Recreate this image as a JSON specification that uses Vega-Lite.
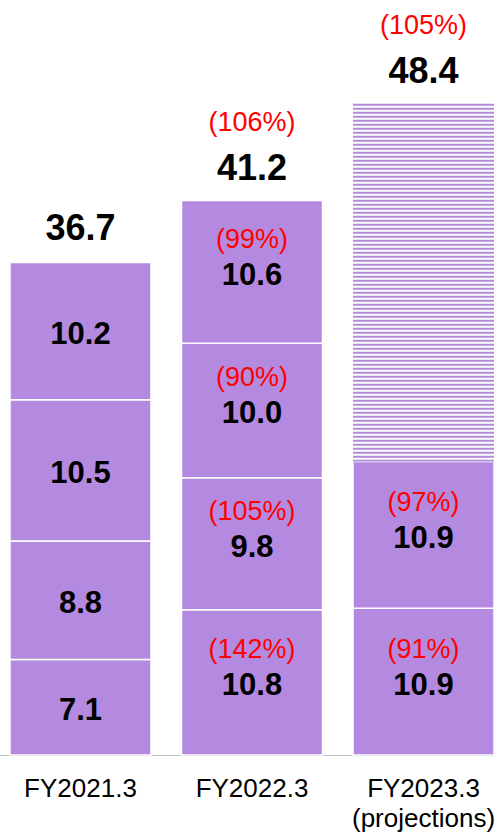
{
  "$schema": "https://vega.github.io/schema/vega-lite/v6.json",
  "width": 495,
  "height": 755,
  "autosize": "none",
  "padding": {"left": 0, "top": 0, "right": 0, "bottom": 77},
  "background": "white",
  "config": {"view": {"stroke": null}, "font": "Liberation Sans"},
  "datasets": {
    "segs": [
      {"fy": "FY2021.3", "seg": 1, "value": 7.1, "pct": null, "kind": "solid"},
      {"fy": "FY2021.3", "seg": 2, "value": 8.8, "pct": null, "kind": "solid"},
      {"fy": "FY2021.3", "seg": 3, "value": 10.5, "pct": null, "kind": "solid"},
      {"fy": "FY2021.3", "seg": 4, "value": 10.2, "pct": null, "kind": "solid"},
      {"fy": "FY2022.3", "seg": 1, "value": 10.8, "pct": "(142%)", "kind": "solid"},
      {"fy": "FY2022.3", "seg": 2, "value": 9.8, "pct": "(105%)", "kind": "solid"},
      {"fy": "FY2022.3", "seg": 3, "value": 10.0, "pct": "(90%)", "kind": "solid"},
      {"fy": "FY2022.3", "seg": 4, "value": 10.6, "pct": "(99%)", "kind": "solid"},
      {"fy": "FY2023.3 (projections)", "seg": 1, "value": 10.9, "pct": "(91%)", "kind": "solid"},
      {"fy": "FY2023.3 (projections)", "seg": 2, "value": 10.9, "pct": "(97%)", "kind": "solid"},
      {"fy": "FY2023.3 (projections)", "seg": 3, "value": 26.6, "pct": null, "kind": "plan"}
    ],
    "totals": [
      {"fy": "FY2021.3", "total": 36.7, "pct": null},
      {"fy": "FY2022.3", "total": 41.2, "pct": "(106%)"},
      {"fy": "FY2023.3 (projections)", "total": 48.4, "pct": "(105%)"}
    ]
  },
  "data": {"name": "segs"},
  "encoding": {
    "x": {
      "field": "fy",
      "type": "nominal",
      "sort": null,
      "scale": {
        "domain": ["FY2021.3", "FY2022.3", "FY2023.3 (projections)"],
        "paddingInner": 0.178,
        "paddingOuter": 0.032,
        "align": 0.91
      },
      "axis": {
        "title": null,
        "labelAngle": 0,
        "ticks": false,
        "tickSize": 0,
        "labelPadding": 20,
        "labelFontSize": 26,
        "labelFont": "Liberation Sans",
        "labelColor": "#000000",
        "labelLineHeight": 30,
        "labelOverlap": false,
        "labelBound": false,
        "domainColor": "#bfbfbf",
        "domainWidth": 1,
        "labelExpr": "datum.value == 'FY2023.3 (projections)' ? ['FY2023.3', '(projections)'] : datum.label"
      }
    }
  },
  "layer": [
    {
      "transform": [{"filter": "datum.kind == 'solid'"}],
      "mark": {"type": "bar", "color": "#b38ae0", "stroke": "white", "strokeWidth": 1.5},
      "encoding": {
        "y": {"field": "value", "type": "quantitative", "stack": "zero", "scale": {"domain": [0, 56.1], "nice": false}, "axis": null},
        "order": {"field": "seg", "type": "quantitative"}
      }
    },
    {
      "transform": [
        {"stack": "value", "groupby": ["fy"], "sort": [{"field": "seg", "order": "ascending"}], "as": ["v0", "v1"]},
        {"filter": "datum.kind == 'plan'"}
      ],
      "mark": {"type": "rule", "color": "#b38ae0", "strokeWidth": 141, "strokeDash": [2, 2], "strokeCap": "butt"},
      "encoding": {
        "y": {"field": "v1", "type": "quantitative", "scale": {"domain": [0, 56.1], "nice": false}, "axis": null},
        "y2": {"field": "v0"}
      }
    },
    {
      "transform": [{"filter": "datum.kind == 'solid'"}],
      "mark": {"type": "text", "fontSize": 31, "fontWeight": "bold", "color": "#000000", "baseline": "alphabetic", "dy": 13},
      "encoding": {
        "y": {"field": "value", "type": "quantitative", "stack": "zero", "bandPosition": 0.5, "scale": {"domain": [0, 56.1], "nice": false}, "axis": null},
        "order": {"field": "seg", "type": "quantitative"},
        "text": {"field": "value", "type": "quantitative", "format": ".1f"}
      }
    },
    {
      "transform": [{"filter": "datum.kind == 'solid' && datum.pct != null"}],
      "mark": {"type": "text", "fontSize": 27, "color": "#ff0000", "baseline": "alphabetic", "dy": -24},
      "encoding": {
        "y": {"field": "value", "type": "quantitative", "stack": "zero", "bandPosition": 0.5, "scale": {"domain": [0, 56.1], "nice": false}, "axis": null},
        "order": {"field": "seg", "type": "quantitative"},
        "text": {"field": "pct", "type": "nominal"}
      }
    },
    {
      "data": {"name": "totals"},
      "mark": {"type": "text", "fontSize": 36, "fontWeight": "bold", "color": "#000000", "baseline": "alphabetic", "dy": -21},
      "encoding": {
        "y": {"field": "total", "type": "quantitative", "scale": {"domain": [0, 56.1], "nice": false}, "axis": null},
        "text": {"field": "total", "type": "quantitative", "format": ".1f"}
      }
    },
    {
      "data": {"name": "totals"},
      "transform": [{"filter": "datum.pct != null"}],
      "mark": {"type": "text", "fontSize": 27, "color": "#ff0000", "baseline": "alphabetic", "dy": -70},
      "encoding": {
        "y": {"field": "total", "type": "quantitative", "scale": {"domain": [0, 56.1], "nice": false}, "axis": null},
        "text": {"field": "pct", "type": "nominal"}
      }
    }
  ]
}
